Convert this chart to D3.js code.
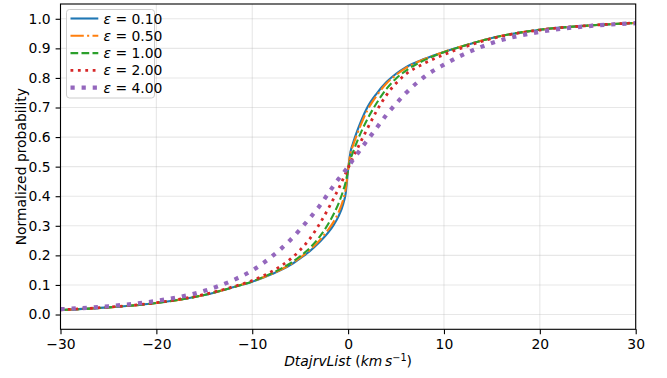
<!DOCTYPE html>
<html lang="en">
<head>
    <meta charset="UTF-8">
    <title>Normalized probability</title>
    <script src="https://d3js.org/d3.v7.min.js"></script>
    <style>
        body { margin: 0; background: #fff; }
        text { font-family: "DejaVu Sans", sans-serif; }
    </style>
</head>
<body>
<svg width="667" height="378" class="chart"></svg>

<script>
    // sample positions along x (km/s)
    var xs = [-30, -25, -20, -15, -12, -10, -8, -6, -5, -4, -3, -2, -1.5, -1, -0.5, -0.25, 0,
        0.25, 0.5, 1, 1.5, 2, 3, 4, 5, 6, 8, 10, 12, 15, 20, 25, 30];

    var eps010 = [0.015, 0.024, 0.039, 0.066, 0.092, 0.111, 0.136, 0.168, 0.190, 0.214, 0.244, 0.280, 0.303, 0.332, 0.375, 0.410, 0.49,
        0.55, 0.578, 0.625, 0.666, 0.700, 0.748, 0.786, 0.814, 0.836, 0.865, 0.888, 0.908, 0.935, 0.963, 0.977, 0.986];
    var eps050 = [0.015, 0.024, 0.039, 0.066, 0.092, 0.112, 0.137, 0.170, 0.192, 0.218, 0.250, 0.290, 0.314, 0.345, 0.390, 0.425, 0.49,
        0.545, 0.570, 0.615, 0.655, 0.690, 0.741, 0.781, 0.810, 0.833, 0.864, 0.888, 0.908, 0.935, 0.963, 0.977, 0.986];
    var eps100 = [0.015, 0.024, 0.039, 0.066, 0.092, 0.112, 0.139, 0.174, 0.197, 0.225, 0.262, 0.310, 0.340, 0.375, 0.420, 0.448, 0.49,
        0.525, 0.548, 0.590, 0.627, 0.660, 0.716, 0.763, 0.798, 0.824, 0.861, 0.887, 0.908, 0.935, 0.963, 0.977, 0.986];
    var eps200 = [0.016, 0.025, 0.040, 0.068, 0.094, 0.115, 0.145, 0.188, 0.218, 0.256, 0.305, 0.362, 0.393, 0.425, 0.460, 0.477, 0.495,
        0.513, 0.530, 0.563, 0.596, 0.628, 0.690, 0.742, 0.782, 0.812, 0.850, 0.879, 0.903, 0.933, 0.962, 0.977, 0.986];
    var eps400 = [0.018, 0.028, 0.046, 0.080, 0.116, 0.149, 0.195, 0.253, 0.288, 0.326, 0.366, 0.413, 0.436, 0.458, 0.478, 0.489, 0.5,
        0.511, 0.523, 0.545, 0.568, 0.589, 0.632, 0.675, 0.713, 0.748, 0.805, 0.845, 0.879, 0.918, 0.956, 0.975, 0.985];

    var labels = ["0.10", "0.50", "1.00", "2.00", "4.00"];
    var xTicks = [-30, -20, -10, 0, 10, 20, 30];
    var yTicks = [0, 0.1, 0.2, 0.3, 0.4, 0.5, 0.6, 0.7, 0.8, 0.9, 1.0];

    var series = [
        {name: labels[0], values: eps010, color: "#1f77b4", width: 2.1, dash: null},
        {name: labels[1], values: eps050, color: "#ff7f0e", width: 2.1, dash: "13.3,3.3,2.1,3.3"},
        {name: labels[2], values: eps100, color: "#2ca02c", width: 2.1, dash: "7.7,3.3"},
        {name: labels[3], values: eps200, color: "#d62728", width: 2.8, dash: "2.8,4.6"},
        {name: labels[4], values: eps400, color: "#9467bd", width: 4.2, dash: "4.2,6.9"}
    ];

    var svg = d3.select("svg.chart"),
        pLeft = 60.5, pRight = 635.7, pTop = 4, pBottom = 329.3;

    var x = d3.scaleLinear().domain([-30, 30]).range([pLeft, pRight]);
    var y = d3.scaleLinear().domain([-0.05, 1.05]).range([pBottom, pTop]);

    // grid
    var grid = svg.append("g");
    grid.selectAll(".gx").data(xTicks).enter().append("line")
        .attr("x1", function (d) { return x(d); })
        .attr("x2", function (d) { return x(d); })
        .attr("y1", pTop).attr("y2", pBottom)
        .attr("stroke", "#b0b0b0").attr("stroke-opacity", 0.3).attr("stroke-width", 1.1);
    grid.selectAll(".gy").data(yTicks).enter().append("line")
        .attr("y1", function (d) { return y(d); })
        .attr("y2", function (d) { return y(d); })
        .attr("x1", pLeft).attr("x2", pRight)
        .attr("stroke", "#b0b0b0").attr("stroke-opacity", 0.3).attr("stroke-width", 1.1);

    // curves
    var line = d3.line()
        .x(function (d) { return x(d[0]); })
        .y(function (d) { return y(d[1]); })
        .curve(d3.curveMonotoneX);

    var plot = svg.append("g");
    series.forEach(function (s) {
        plot.append("path")
            .datum(xs.map(function (v, i) { return [v, s.values[i]]; }))
            .attr("d", line)
            .attr("fill", "none")
            .attr("stroke", s.color)
            .attr("stroke-width", s.width)
            .attr("stroke-dasharray", s.dash);
    });

    // axes
    var fmtX = function (d) { return d < 0 ? "\u2212" + Math.abs(d) : d; };
    var xAxis = svg.append("g")
        .attr("transform", "translate(0," + pBottom + ")")
        .call(d3.axisBottom(x).tickValues(xTicks).tickFormat(fmtX).tickSizeInner(4.9).tickSizeOuter(0).tickPadding(4.9));
    var yAxis = svg.append("g")
        .attr("transform", "translate(" + pLeft + ",0)")
        .call(d3.axisLeft(y).tickValues(yTicks).tickFormat(d3.format(".1f")).tickSizeInner(4.9).tickSizeOuter(0).tickPadding(4.9));
    [xAxis, yAxis].forEach(function (a) {
        a.select(".domain").remove();
        a.selectAll("line").attr("stroke", "#000").attr("stroke-width", 1.1);
        a.selectAll("text").attr("font-size", "13.9px").attr("fill", "#000")
            .attr("font-family", "DejaVu Sans, sans-serif");
    });

    // frame
    svg.append("rect")
        .attr("x", pLeft).attr("y", pTop)
        .attr("width", pRight - pLeft).attr("height", pBottom - pTop)
        .attr("fill", "none").attr("stroke", "#000").attr("stroke-width", 1.1);

    // axis labels
    var xl = svg.append("text")
        .attr("x", (pLeft + pRight) / 2).attr("y", 366)
        .attr("text-anchor", "middle").attr("font-size", "13.9px");
    xl.append("tspan").attr("font-style", "italic").text("DtajrvList");
    xl.append("tspan").text(" (");
    xl.append("tspan").attr("font-style", "italic").text("km\u2009s");
    xl.append("tspan").attr("font-size", "9.7px").attr("dy", -5).text("\u22121");
    xl.append("tspan").attr("dy", 5).text(")");

    svg.append("text")
        .attr("transform", "translate(26," + ((pTop + pBottom) / 2) + ") rotate(-90)")
        .attr("text-anchor", "middle").attr("font-size", "13.9px")
        .text("Normalized probability");

    // legend
    var lg = svg.append("g");
    lg.append("rect")
        .attr("x", 66.5).attr("y", 9.5).attr("width", 88).attr("height", 88.5)
        .attr("rx", 3).attr("fill", "#fff").attr("fill-opacity", 0.8)
        .attr("stroke", "#cccccc").attr("stroke-width", 1);
    series.forEach(function (s, i) {
        var cy = 18.5 + i * 17.3;
        lg.append("line")
            .attr("x1", 70.5).attr("x2", 98.3)
            .attr("y1", cy).attr("y2", cy)
            .attr("stroke", s.color).attr("stroke-width", s.width)
            .attr("stroke-dasharray", s.dash);
        var t = lg.append("text")
            .attr("x", 103.5).attr("y", cy + 5)
            .attr("font-size", "13.9px");
        t.append("tspan").attr("font-style", "italic").text("\u03b5");
        t.append("tspan").text(" = " + s.name);
    });
</script>
</body>
</html>
